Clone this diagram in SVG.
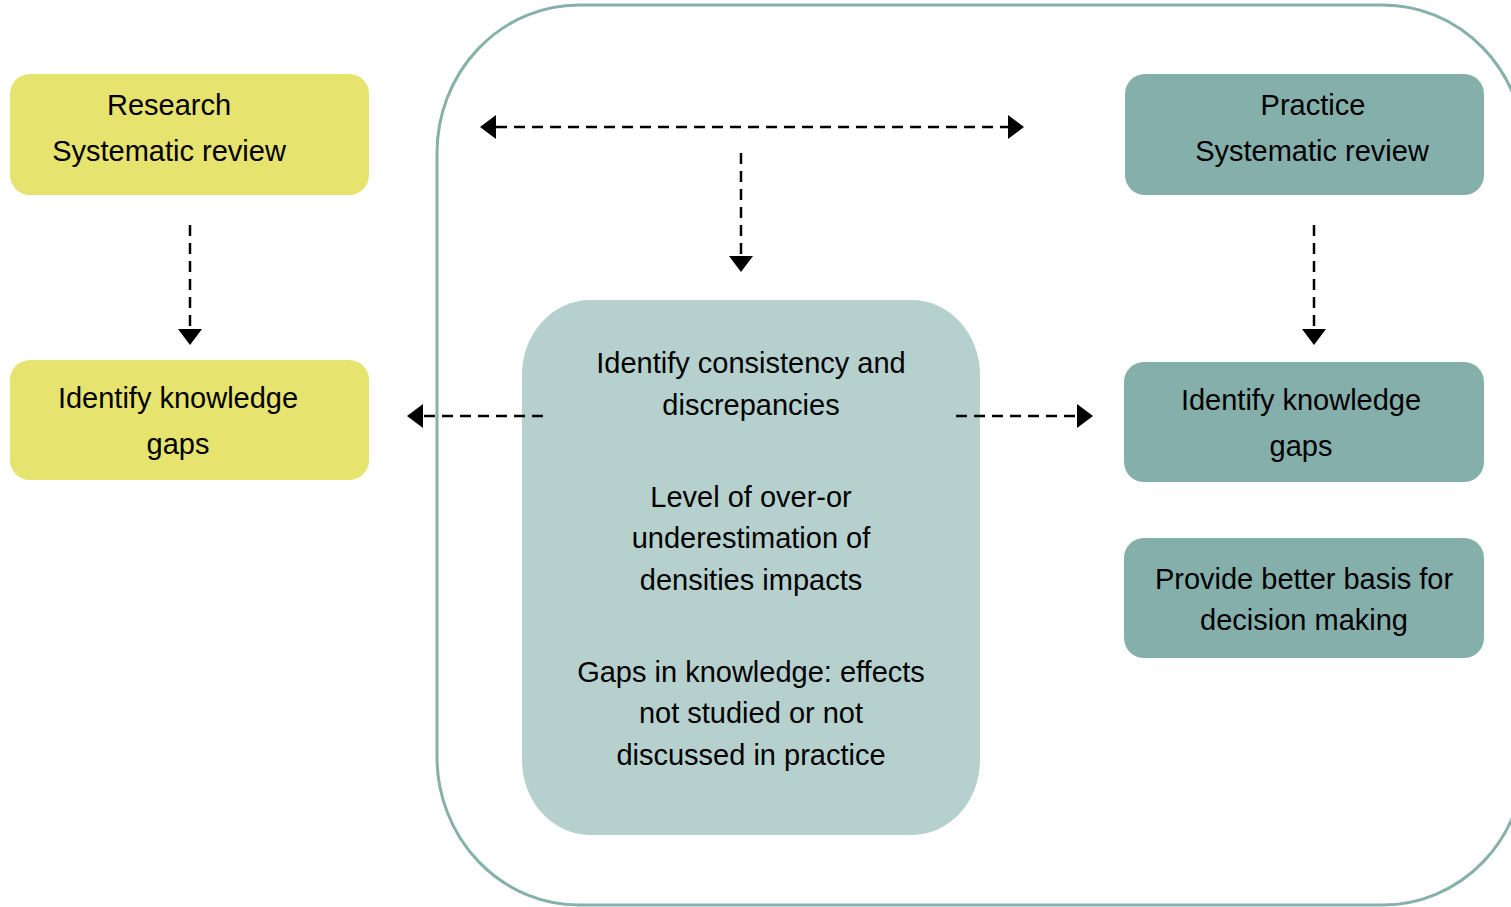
<svg xmlns="http://www.w3.org/2000/svg" width="1511" height="907" viewBox="0 0 1511 907">
<defs>
<style>
text{font-family:"Liberation Sans",Arial,sans-serif;font-size:29px;fill:#000;text-anchor:middle}
.y{fill:#e6e36e}
.t{fill:#85afaa}
.c{fill:#b5d0cd}
.con line{stroke:#000;stroke-width:2.5;stroke-dasharray:11 7;fill:none}
</style>
<marker id="ah" viewBox="0 0 16 24" refX="0" refY="12" markerWidth="16" markerHeight="24" markerUnits="userSpaceOnUse" orient="auto-start-reverse">
<path d="M0,0 L16,12 L0,24 z" fill="#000"/>
</marker>
</defs>
<rect width="1511" height="907" fill="#fff"/>
<g id="frame">
<rect x="437" y="5" width="1088" height="900" rx="142" ry="148" fill="none" stroke="#86b0ab" stroke-width="3"/>
</g>
<g id="research-review">
<rect class="y" x="10" y="74" width="359" height="121" rx="20"/>
<text x="169" y="115">Research</text>
<text x="169" y="161">Systematic review</text>
</g>
<g id="research-gaps">
<rect class="y" x="10" y="360" width="359" height="120" rx="20"/>
<text x="178" y="408">Identify knowledge</text>
<text x="178" y="454">gaps</text>
</g>
<g id="practice-review">
<rect class="t" x="1125" y="74" width="359" height="121" rx="20"/>
<text x="1313" y="115">Practice</text>
<text x="1312" y="161">Systematic review</text>
</g>
<g id="practice-gaps">
<rect class="t" x="1124" y="362" width="360" height="120" rx="20"/>
<text x="1301" y="410">Identify knowledge</text>
<text x="1301" y="456">gaps</text>
</g>
<g id="practice-decision">
<rect class="t" x="1124" y="538" width="360" height="120" rx="20"/>
<text x="1304" y="589">Provide better basis for</text>
<text x="1304" y="630">decision making</text>
</g>
<g id="center">
<rect class="c" x="522" y="300" width="458" height="535" rx="68" ry="75"/>
<text x="751" y="373">Identify consistency and</text>
<text x="751" y="415">discrepancies</text>
<text x="751" y="507">Level of over-or</text>
<text x="751" y="548">underestimation of</text>
<text x="751" y="590">densities impacts</text>
<text x="751" y="682">Gaps in knowledge: effects</text>
<text x="751" y="723">not studied or not</text>
<text x="751" y="765">discussed in practice</text>
</g>
<g id="connectors" class="con">
<line x1="496" y1="127" x2="1008" y2="127" marker-start="url(#ah)" marker-end="url(#ah)"/>
<line x1="741" y1="153" x2="741" y2="256" marker-end="url(#ah)"/>
<line x1="190" y1="225" x2="190" y2="329" marker-end="url(#ah)"/>
<line x1="1314" y1="225" x2="1314" y2="329" marker-end="url(#ah)"/>
<line x1="543" y1="416" x2="423" y2="416" marker-end="url(#ah)"/>
<line x1="956" y1="416" x2="1077" y2="416" marker-end="url(#ah)"/>
</g>
</svg>
